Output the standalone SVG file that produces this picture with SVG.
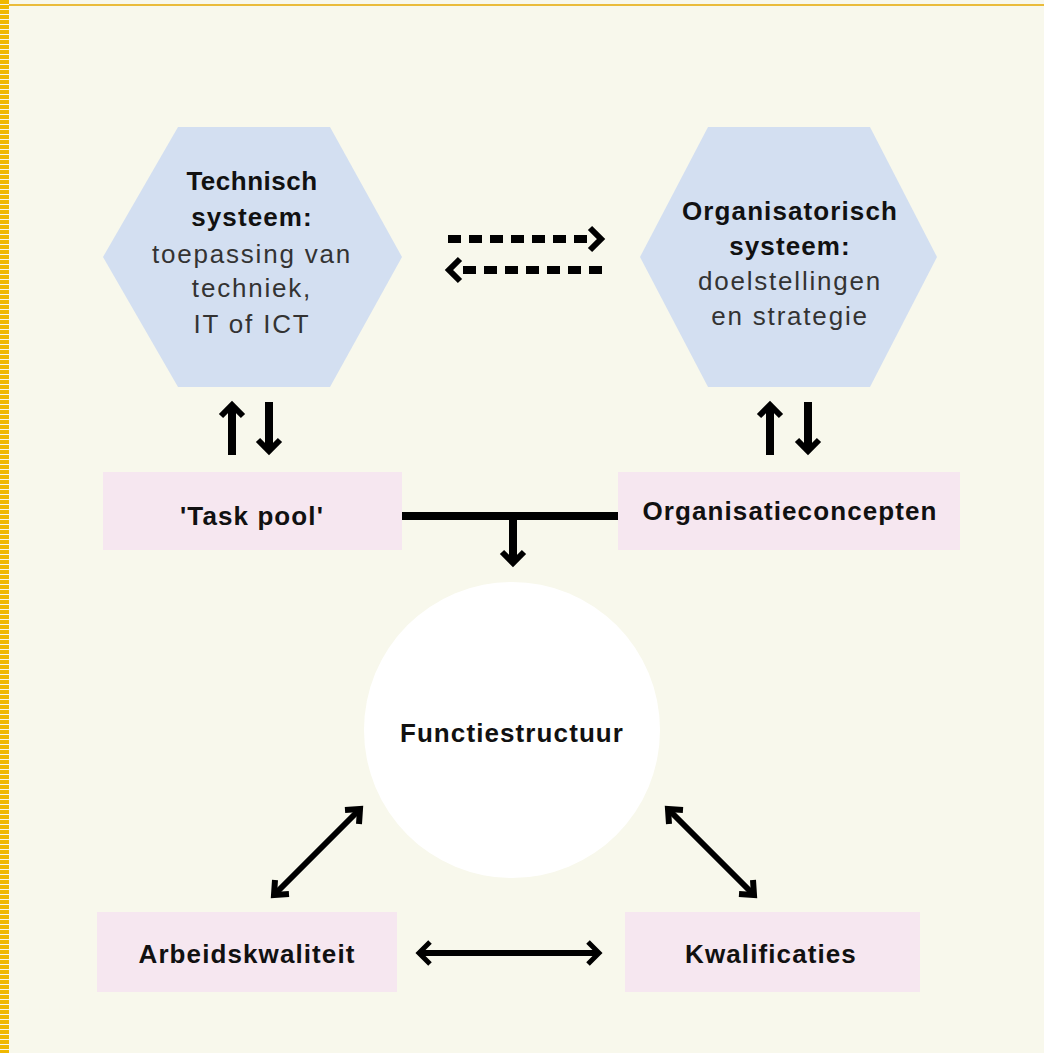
<svg xmlns="http://www.w3.org/2000/svg" width="1044" height="1053" viewBox="0 0 1044 1053">
<defs>
<style>
.bg{fill:#f8f8ec}
.hex{fill:#d3dff1}
.box{fill:#f6e7f0}
.circ{fill:#ffffff}
.b{font-family:"Liberation Sans",Arial,sans-serif;font-weight:bold;font-size:26px;fill:#111;text-anchor:middle;letter-spacing:1.1px}
.r{font-family:"Liberation Sans",Arial,sans-serif;font-size:26px;fill:#333;text-anchor:middle;letter-spacing:1.8px}
.ln{stroke:#000;fill:none}
.hd{stroke:#000;fill:none;stroke-linejoin:miter;stroke-linecap:butt}
</style>
</defs>
<rect class="bg" x="0" y="0" width="1044" height="1053"/>
<line x1="9" y1="5" x2="1044" y2="5" stroke="#e6a800" stroke-width="1.5"/>
<line x1="4.5" y1="0" x2="4.5" y2="1053" stroke="#f0b800" stroke-width="9" stroke-dasharray="4 1"/>

<g id="technisch">
<polygon class="hex" points="178,127 330,127 402,257 330,387 178,387 103,257"/>
<text class="b" x="252" y="190" style="letter-spacing:0.5px">Technisch</text>
<text class="b" x="252" y="226">systeem:</text>
<text class="r" x="252" y="263">toepassing van</text>
<text class="r" x="252" y="297">techniek,</text>
<text class="r" x="252" y="333">IT of ICT</text>
</g>

<g id="organisatorisch">
<polygon class="hex" points="708,127 870,127 937,257 870,387 708,387 640,257"/>
<text class="b" x="790" y="220">Organisatorisch</text>
<text class="b" x="790" y="255">systeem:</text>
<text class="r" x="790" y="290">doelstellingen</text>
<text class="r" x="790" y="325">en strategie</text>
</g>

<g id="taskpool">
<rect class="box" x="103" y="472" width="299" height="78"/>
<text class="b" x="252" y="525">'Task pool'</text>
</g>

<g id="organisatieconcepten">
<rect class="box" x="618" y="472" width="342" height="78"/>
<text class="b" x="790" y="520">Organisatieconcepten</text>
</g>

<g id="functiestructuur">
<circle class="circ" cx="512" cy="730" r="148"/>
<text class="b" x="512" y="742">Functiestructuur</text>
</g>

<g id="arbeidskwaliteit">
<rect class="box" x="97" y="912" width="300" height="80"/>
<text class="b" x="247" y="963">Arbeidskwaliteit</text>
</g>

<g id="kwalificaties">
<rect class="box" x="625" y="912" width="295" height="80"/>
<text class="b" x="771" y="963">Kwalificaties</text>
</g>

<g id="connectors">
<line class="ln" x1="448" y1="239" x2="592" y2="239" stroke-width="8" stroke-dasharray="13 8"/>
<polyline class="hd" points="590,228 601,239 590,250" stroke-width="6"/>
<line class="ln" x1="602" y1="270" x2="458" y2="270" stroke-width="8" stroke-dasharray="13 8"/>
<polyline class="hd" points="460,259 449,270 460,281" stroke-width="6"/>

<line class="ln" x1="232" y1="455" x2="232" y2="407" stroke-width="8"/>
<polyline class="hd" points="221,416 232,405 243,416" stroke-width="6"/>
<line class="ln" x1="269" y1="402" x2="269" y2="449" stroke-width="8"/>
<polyline class="hd" points="258,440 269,451 280,440" stroke-width="6"/>

<line class="ln" x1="770" y1="455" x2="770" y2="407" stroke-width="8"/>
<polyline class="hd" points="759,416 770,405 781,416" stroke-width="6"/>
<line class="ln" x1="808" y1="402" x2="808" y2="449" stroke-width="8"/>
<polyline class="hd" points="797,440 808,451 819,440" stroke-width="6"/>

<line class="ln" x1="402" y1="516" x2="618" y2="516" stroke-width="8"/>
<line class="ln" x1="513" y1="516" x2="513" y2="560" stroke-width="8"/>
<polyline class="hd" points="502,552 513,563 524,552" stroke-width="6"/>

<line class="ln" x1="276" y1="893" x2="358" y2="811" stroke-width="6"/>
<polyline class="hd" points="345,810 360,809 359,824" stroke-width="6"/>
<polyline class="hd" points="275,880 274,895 289,894" stroke-width="6"/>

<line class="ln" x1="670" y1="811" x2="752" y2="893" stroke-width="6"/>
<polyline class="hd" points="669,824 668,809 683,810" stroke-width="6"/>
<polyline class="hd" points="739,894 754,895 753,880" stroke-width="6"/>

<line class="ln" x1="421" y1="953" x2="597" y2="953" stroke-width="6"/>
<polyline class="hd" points="430,942 419,953 430,964" stroke-width="5"/>
<polyline class="hd" points="588,942 599,953 588,964" stroke-width="5"/>
</g>
</svg>
